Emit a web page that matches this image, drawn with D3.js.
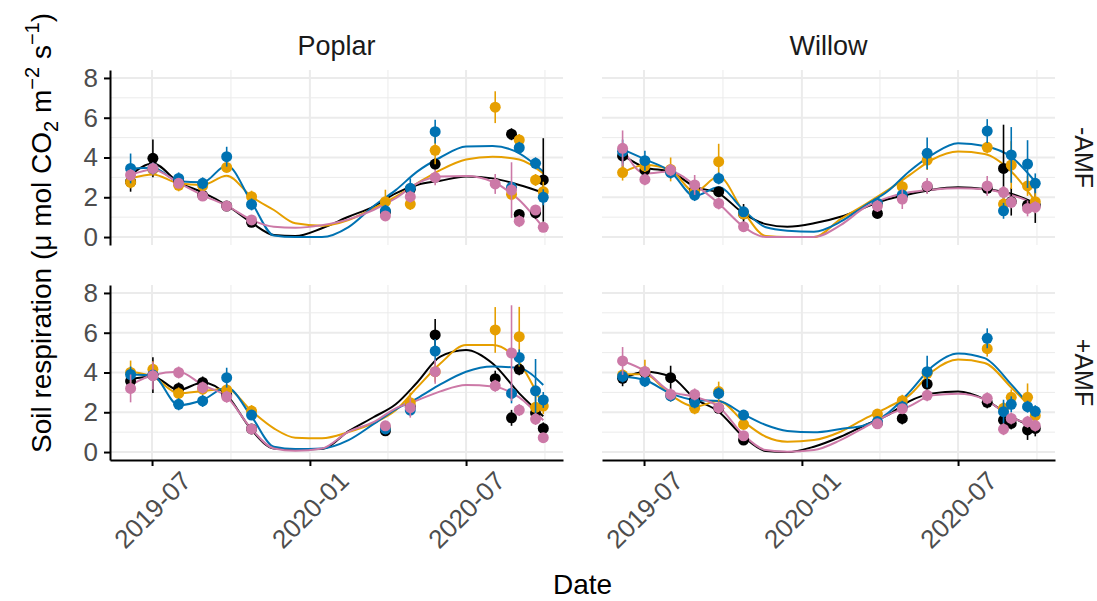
<!DOCTYPE html>
<html>
<head>
<meta charset="utf-8">
<script src="https://cdn.jsdelivr.net/npm/d3@7"></script>
<style>
  body { margin: 0; background: #fff; }
  text { font-family: "Liberation Sans", Arial, sans-serif; }
</style>
</head>
<body>
<svg id="chart" width="1097" height="601"></svg>
<script>
// sampling dates (points) and dates where the smooth fits were read
const sampleDates = ["2019-06-06","2019-07-02","2019-08-01","2019-08-29","2019-09-26","2019-10-25",
  "2020-03-29","2020-04-27","2020-05-26","2020-08-04","2020-08-23","2020-09-01","2020-09-20","2020-09-29"];
const fitDates = ["2019-06-06","2019-07-02","2019-08-01","2019-08-29","2019-09-26","2019-10-25",
  "2019-11-20","2019-12-15","2020-01-15","2020-02-15","2020-03-15","2020-04-10","2020-05-05",
  "2020-06-01","2020-07-01","2020-08-01","2020-09-01","2020-09-29"];

const species = ["Poplar", "Willow"];
const amfLevels = ["-AMF", "+AMF"];
const seriesColors = ["#000000", "#E69F00", "#0072B2", "#CC79A7"];

const yTicks = [0, 2, 4, 6, 8];
const yMinor = [1, 3, 5, 7];
const xTicks = ["2019-07-01", "2020-01-01", "2020-07-01"];
const xMinor = ["2019-10-01", "2020-04-01", "2020-10-01"];

// rows: black, orange, blue, pink
const poplarNoAmfMean = [
  [2.78, 3.96, 2.8, 2.1, 1.56, 0.74, 1.27, 2.4, 3.67, null, 5.17, 1.14, 1.22, 2.87],
  [2.75, 3.4, 2.6, 2.58, 3.5, 2.03, 1.78, 1.66, 4.36, 6.53, 2.15, 4.88, 2.87, 2.28],
  [3.45, 3.45, 2.95, 2.7, 4.04, 1.64, 1.32, 2.45, 5.3, null, 2.5, 4.49, 3.71, 2.0],
  [3.12, 3.45, 2.7, 2.06, 1.56, 0.86, 1.06, 2.03, 3.0, 2.67, 2.36, 0.8, 1.36, 0.49]
];
const poplarNoAmfSe = [
  [0.5, 0.95, 0.2, 0.2, 0.2, 0.2, 0.2, 0.2, 0.3, null, 0.3, 0.2, 0.3, 2.1],
  [0.3, 0.3, 0.3, 0.3, 0.2, 0.3, 0.6, 0.3, 0.7, 0.8, 0.3, 0.3, 0.3, 0.5],
  [0.75, 0.3, 0.3, 0.3, 0.5, 0.3, 0.3, 0.5, 0.6, null, 0.3, 0.3, 0.3, 0.4],
  [0.3, 0.3, 0.2, 0.2, 0.2, 0.2, 0.2, 0.3, 0.4, 0.5, 1.4, 0.3, 0.2, 0.2]
];
const poplarNoAmfFit = [
  [3.12, 3.7, 2.75, 2.25, 1.6, 0.72, 0.1, 0.05, 0.44, 1.02, 1.53, 2.2, 2.62, 2.83, 3.04, 2.95, 2.62, 2.23],
  [2.95, 3.15, 2.7, 2.62, 3.08, 2.03, 1.36, 0.69, 0.57, 0.86, 1.44, 2.03, 2.7, 3.37, 3.9, 4.04, 3.9, 3.2],
  [3.45, 3.49, 2.8, 2.75, 3.6, 1.75, 0.08, 0, 0, 0.5, 1.55, 2.36, 3.29, 4.0, 4.55, 4.58, 4.21, 3.29],
  [3.12, 3.4, 2.72, 2.1, 1.58, 0.86, 0.52, 0.47, 0.6, 0.89, 1.36, 1.95, 2.7, 3.04, 3.07, 2.78, 1.86, 0.47]
];

const willowNoAmfMean = [
  [4.08, 3.37, 3.29, 2.36, 2.28, 1.16, 1.19, 2.06, 2.53, 2.45, 3.45, 1.78, 1.61, 1.61],
  [3.24, 3.57, 3.4, 2.28, 3.79, 1.16, 1.66, 2.53, 3.87, 4.51, 1.66, 3.62, 2.57, 1.78],
  [4.3, 3.84, 3.24, 2.11, 2.95, 1.27, 1.7, 2.11, 4.21, 5.33, 1.32, 4.13, 3.67, 2.7],
  [4.46, 2.9, 3.37, 2.62, 1.69, 0.52, 1.56, 1.91, 2.57, 2.57, 2.25, 1.75, 1.44, 1.5]
];
const willowNoAmfSe = [
  [0.6, 0.2, 0.3, 0.2, 0.2, 0.5, 0.2, 0.2, 0.3, 0.3, 2.2, 0.7, 0.3, 0.9],
  [0.4, 0.3, 0.6, 0.3, 0.9, 0.2, 0.2, 0.3, 0.5, 0.3, 0.5, 1.2, 0.5, 0.5],
  [0.6, 0.5, 0.3, 0.3, 0.3, 0.2, 0.2, 0.2, 0.8, 0.6, 0.4, 1.4, 1.2, 0.5],
  [0.9, 0.3, 0.3, 0.5, 0.3, 0.2, 0.3, 0.5, 0.4, 0.5, 0.3, 0.3, 0.4, 0.3]
];
const willowNoAmfFit = [
  [4.13, 3.5, 3.29, 2.53, 2.2, 1.19, 0.65, 0.52, 0.69, 1.02, 1.5, 1.9, 2.15, 2.38, 2.5, 2.42, 2.18, 1.7],
  [3.24, 3.62, 3.37, 2.28, 3.04, 1.27, 0.05, 0, 0, 0.9, 1.65, 2.36, 3.1, 3.9, 4.3, 4.18, 3.3, 1.8],
  [4.41, 3.91, 3.29, 2.06, 2.5, 1.36, 0.49, 0.32, 0.27, 0.77, 1.6, 2.3, 3.3, 4.15, 4.72, 4.58, 4.03, 2.78],
  [4.46, 3.2, 3.29, 2.62, 1.69, 0.52, 0, 0, 0, 0.6, 1.5, 1.98, 2.25, 2.38, 2.45, 2.4, 2.11, 1.69]
];

const poplarAmfMean = [
  [3.57, 3.87, 3.2, 3.5, 2.87, 1.16, 1.07, 2.28, 5.89, 3.69, 1.72, 4.16, 1.96, 1.19],
  [4.0, 4.16, 2.95, 3.17, 3.12, 2.06, 1.22, 2.48, 4.04, 6.14, null, 5.8, 2.25, 2.31],
  [3.9, 3.87, 2.4, 2.57, 3.74, 1.86, 1.16, 2.11, 5.08, null, 2.95, 4.76, 3.08, 2.62],
  [3.2, 3.84, 4.0, 3.24, 2.78, 1.16, 1.32, 2.23, 4.04, 3.33, 4.98, 2.11, 1.66, 0.72]
];
const poplarAmfSe = [
  [0.3, 0.9, 0.3, 0.3, 0.2, 0.2, 0.2, 0.2, 0.8, 0.4, 0.4, 0.3, 0.3, 0.3],
  [0.6, 0.4, 0.3, 0.3, 0.3, 0.3, 0.2, 0.5, 0.5, 1.15, null, 1.5, 0.8, 0.4],
  [0.4, 0.3, 0.3, 0.3, 0.5, 0.2, 0.2, 0.3, 0.6, null, 0.5, 0.4, 1.6, 0.4],
  [0.7, 0.7, 0.3, 0.3, 0.3, 0.2, 0.2, 0.5, 0.6, 0.3, 2.4, 0.3, 0.3, 0.2]
];
const poplarAmfFit = [
  [3.67, 3.79, 3.12, 3.5, 2.87, 1.11, 0.18, 0.13, 0.15, 1.05, 1.75, 2.4, 3.5, 4.8, 5.13, 4.45, 2.95, 1.8],
  [4.04, 3.79, 2.95, 3.07, 3.17, 2.06, 1.19, 0.72, 0.69, 1.0, 1.45, 2.1, 3.25, 4.45, 5.38, 5.38, 4.5, 2.3],
  [3.9, 3.84, 2.36, 2.62, 3.24, 1.78, 0.27, 0.15, 0.18, 0.6, 1.4, 2.15, 2.7, 3.4, 4.04, 4.3, 4.22, 3.37],
  [3.37, 3.87, 4.04, 3.37, 2.78, 1.16, 0.18, 0.07, 0.18, 1.02, 1.5, 2.2, 2.6, 3.05, 3.37, 3.3, 2.75, 1.6]
];

const willowAmfMean = [
  [3.71, 4.0, 3.74, 2.62, 2.2, 0.6, 1.45, 1.69, 3.42, 2.5, 1.6, 1.44, 1.11, 1.19],
  [3.87, 4.04, 2.85, 2.2, 3.04, 1.39, 1.91, 2.58, 3.96, 5.2, 2.2, 2.75, 2.75, 1.83],
  [3.8, 3.57, 2.83, 2.5, 2.95, 1.86, 1.53, 2.28, 4.04, 5.72, 2.03, 2.4, 2.28, 2.05],
  [4.58, 4.04, 2.9, 2.9, 2.23, 0.82, 1.42, 2.18, 2.85, 2.7, 1.15, 1.69, 1.52, 1.33]
];
const willowAmfSe = [
  [0.4, 0.3, 0.6, 0.3, 0.2, 0.2, 0.2, 0.3, 0.3, 0.3, 0.3, 0.3, 0.5, 0.4],
  [0.3, 0.6, 0.3, 0.3, 0.5, 0.2, 0.2, 0.3, 0.3, 0.4, 0.3, 0.4, 0.7, 0.3],
  [0.3, 0.3, 0.3, 0.3, 0.3, 0.2, 0.2, 0.3, 0.8, 0.5, 0.6, 0.4, 0.3, 0.3],
  [0.7, 0.3, 0.3, 0.3, 0.3, 0.2, 0.2, 0.2, 0.3, 0.3, 0.3, 0.3, 0.3, 0.3]
];
const willowAmfFit = [
  [3.67, 4.04, 3.79, 2.7, 2.03, 0.77, 0.05, 0, 0.27, 0.77, 1.36, 1.86, 2.55, 2.95, 3.04, 2.65, 1.78, 1.2],
  [3.91, 3.91, 2.87, 2.28, 2.57, 1.53, 0.77, 0.52, 0.6, 1.02, 1.69, 2.25, 2.85, 4.05, 4.65, 4.48, 3.25, 2.0],
  [3.8, 3.62, 2.95, 2.62, 2.57, 1.9, 1.36, 1.06, 0.99, 1.16, 1.36, 1.95, 3.0, 4.3, 4.96, 4.72, 3.4, 2.0],
  [4.58, 4.08, 3.04, 2.78, 2.28, 0.86, 0.1, 0.02, 0.1, 0.6, 1.27, 1.86, 2.3, 2.85, 2.93, 2.65, 1.75, 1.3]
];

const panels = [
  { col: 0, row: 0, mean: poplarNoAmfMean, se: poplarNoAmfSe, fit: poplarNoAmfFit },
  { col: 1, row: 0, mean: willowNoAmfMean, se: willowNoAmfSe, fit: willowNoAmfFit },
  { col: 0, row: 1, mean: poplarAmfMean, se: poplarAmfSe, fit: poplarAmfFit },
  { col: 1, row: 1, mean: willowAmfMean, se: willowAmfSe, fit: willowAmfFit }
];

const parse = d3.utcParse("%Y-%m-%d");
const colX = [[110, 563], [602, 1055]];
const rowY = [[70, 245], [285, 460]];
const xDomain = [parse("2019-05-13"), parse("2020-10-22")];
const yDomain = [-0.4, 8.4];
const grid = "#EBEBEB";
const axisText = "#4D4D4D";
const tickFont = 26;

const svg = d3.select("#chart");

panels.forEach((p, i) => {
  const [x0, x1] = colX[p.col];
  const [y0, y1] = rowY[p.row];
  const x = d3.scaleUtc().domain(xDomain).range([x0, x1]);
  const y = d3.scaleLinear().domain(yDomain).range([y1, y0]);
  const g = svg.append("g");

  // grid
  g.selectAll(".ymin").data(yMinor).join("line")
    .attr("x1", x0).attr("x2", x1).attr("y1", d => y(d)).attr("y2", d => y(d))
    .attr("stroke", grid).attr("stroke-width", 1);
  g.selectAll(".xmin").data(xMinor).join("line")
    .attr("x1", d => x(parse(d))).attr("x2", d => x(parse(d))).attr("y1", y0).attr("y2", y1)
    .attr("stroke", grid).attr("stroke-width", 1);
  g.selectAll(".ymaj").data(yTicks).join("line")
    .attr("x1", x0).attr("x2", x1).attr("y1", d => y(d)).attr("y2", d => y(d))
    .attr("stroke", grid).attr("stroke-width", 2);
  g.selectAll(".xmaj").data(xTicks).join("line")
    .attr("x1", d => x(parse(d))).attr("x2", d => x(parse(d))).attr("y1", y0).attr("y2", y1)
    .attr("stroke", grid).attr("stroke-width", 2);

  svg.append("clipPath").attr("id", "clip" + i)
    .append("rect").attr("x", x0).attr("y", y0).attr("width", x1 - x0).attr("height", y1 - y0);
  const plot = g.append("g").attr("clip-path", "url(#clip" + i + ")");

  const line = d3.line()
    .x((d, k) => x(parse(fitDates[k])))
    .y(d => y(d))
    .curve(d3.curveMonotoneX);

  // smooth fits
  p.fit.forEach((vals, s) => {
    plot.append("path").datum(vals)
      .attr("d", line)
      .attr("fill", "none")
      .attr("stroke", seriesColors[s])
      .attr("stroke-width", 2);
  });

  // error bars and points
  p.mean.forEach((vals, s) => {
    const pts = vals.map((v, k) => ({ d: parse(sampleDates[k]), v: v, e: p.se[s][k] }))
      .filter(o => o.v !== null);
    plot.selectAll(null).data(pts).join("line")
      .attr("x1", o => x(o.d)).attr("x2", o => x(o.d))
      .attr("y1", o => y(o.v - o.e)).attr("y2", o => y(o.v + o.e))
      .attr("stroke", seriesColors[s]).attr("stroke-width", 1.6);
    plot.selectAll(null).data(pts).join("circle")
      .attr("cx", o => x(o.d)).attr("cy", o => y(o.v)).attr("r", 5.5)
      .attr("fill", seriesColors[s]);
  });

  // axes
  if (p.col === 0) {
    const ax = g.append("g").attr("transform", `translate(${x0},0)`)
      .call(d3.axisLeft(y).tickValues(yTicks).tickSize(6).tickSizeOuter(0).tickPadding(6));
    ax.select(".domain").attr("stroke", "#000").attr("stroke-width", 2);
    ax.selectAll(".tick line").attr("stroke", "#000").attr("stroke-width", 2);
    ax.selectAll("text").attr("fill", axisText).attr("font-size", tickFont)
      .attr("font-family", "Liberation Sans, Arial, sans-serif");
  }
  if (p.row === 1) {
    const ax = g.append("g").attr("transform", `translate(0,${y1})`)
      .call(d3.axisBottom(x).tickValues(xTicks.map(parse)).tickFormat(d3.utcFormat("%Y-%m"))
        .tickSize(6).tickSizeOuter(0));
    ax.select(".domain").attr("stroke", "#000").attr("stroke-width", 2);
    ax.selectAll(".tick line").attr("stroke", "#000").attr("stroke-width", 2);
    ax.selectAll("text")
      .attr("fill", axisText).attr("font-size", tickFont)
      .attr("font-family", "Liberation Sans, Arial, sans-serif")
      .attr("y", null).attr("dy", null)
      .attr("text-anchor", "middle")
      .attr("dominant-baseline", "central")
      .attr("transform", "translate(0,50) rotate(-45)");
  }
});

// strips
species.forEach((s, c) => {
  svg.append("text")
    .attr("x", (colX[c][0] + colX[c][1]) / 2).attr("y", 55)
    .attr("text-anchor", "middle").attr("font-size", 27).attr("fill", "#1A1A1A")
    .text(s);
});
amfLevels.forEach((a, r) => {
  const cy = (rowY[r][0] + rowY[r][1]) / 2;
  svg.append("text")
    .attr("transform", `translate(1075,${cy}) rotate(90)`)
    .attr("text-anchor", "middle").attr("font-size", 25).attr("fill", "#1A1A1A")
    .text(a);
});

// axis titles
svg.append("text")
  .attr("x", (colX[0][0] + colX[1][1]) / 2).attr("y", 594)
  .attr("text-anchor", "middle").attr("font-size", 28).attr("fill", "#000")
  .text("Date");

const yt = svg.append("text")
  .attr("transform", "translate(51,233) rotate(-90)")
  .attr("text-anchor", "middle").attr("font-size", 28).attr("fill", "#000");
yt.append("tspan").text("Soil respiration (\u03bc mol CO");
yt.append("tspan").attr("font-size", 20).attr("dy", 7).text("2");
yt.append("tspan").attr("dy", -7).text(" m");
yt.append("tspan").attr("font-size", 20).attr("dy", -12).text("\u22122");
yt.append("tspan").attr("dy", 12).text(" s");
yt.append("tspan").attr("font-size", 20).attr("dy", -12).text("\u22121");
yt.append("tspan").attr("dy", 12).text(")");
</script>
</body>
</html>
